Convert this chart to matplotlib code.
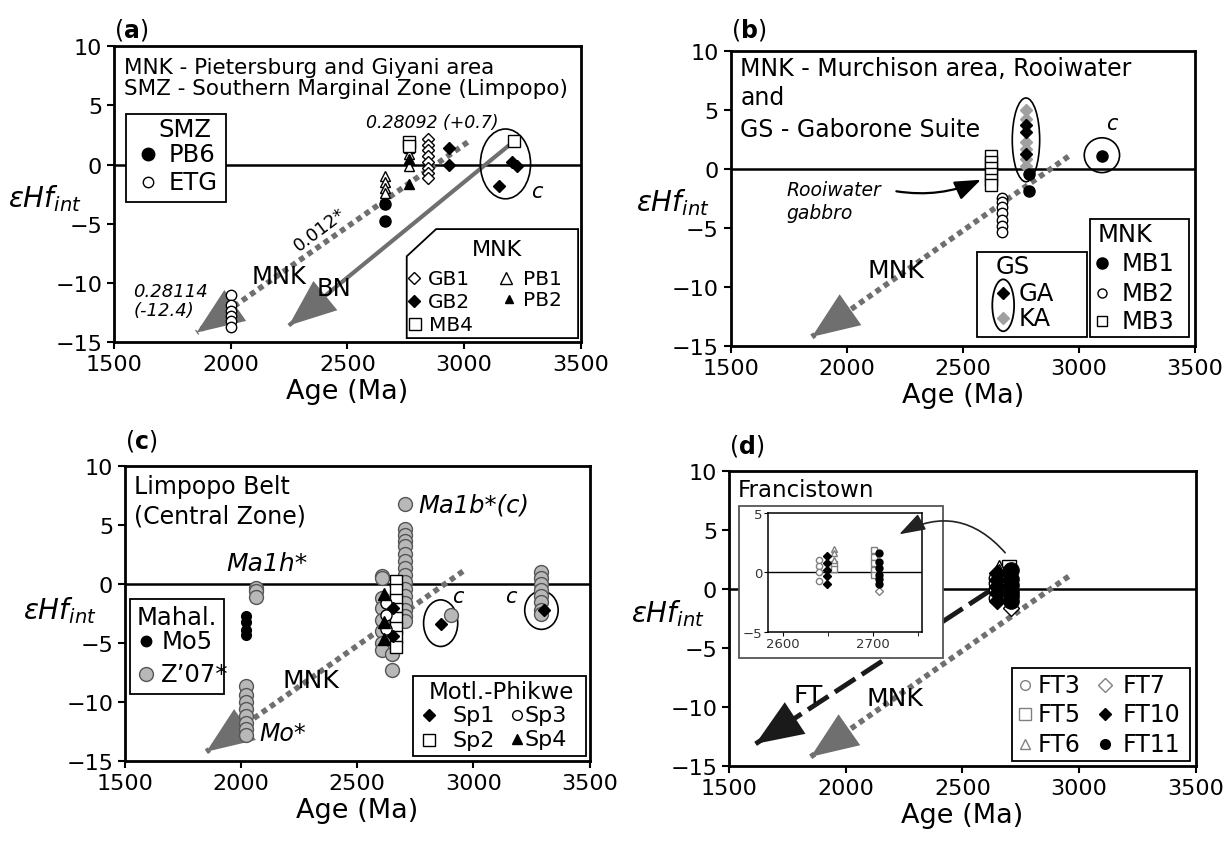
import numpy as np
import matplotlib.pyplot as plt
from matplotlib.patches import Ellipse, Rectangle, Polygon, ConnectionPatch

plt.rcParams['font.family'] = 'DejaVu Sans'
plt.rcParams['mathtext.fontset'] = 'dejavusans'

GREY = '#6f6f6f'
LGREY = '#b8b8b8'

# ---------------- data: age (Ma) and initial eHf ----------------
# MNK reference trend (start, arrow tip) - same in all panels
mnk_age = [2955, 1850]
mnk_ehf = [1.1, -14.2]

# (a) Pietersburg / Giyani + SMZ
a_etg_age = [2000, 2000, 2000, 2000, 2000, 2000]
a_etg_ehf = [-11.0, -11.9, -12.4, -12.8, -13.2, -13.7]
a_pb6_age = [2660, 2660]
a_pb6_ehf = [-3.3, -4.8]
a_pb1_age = [2660, 2660, 2660, 2660, 2765, 2765, 2765, 2765]
a_pb1_ehf = [-1.0, -1.5, -2.0, -2.4, 1.4, 0.9, 0.4, -0.1]
a_pb2_age = [2765, 2765]
a_pb2_ehf = [0.5, -1.6]
a_mb4_age = [2765, 2765, 3215]
a_mb4_ehf = [1.9, 1.6, 2.0]
a_gb1_age = [2845, 2845, 2845, 2845, 2845, 2845, 2845, 2845]
a_gb1_ehf = [2.2, 1.7, 1.2, 0.7, 0.2, -0.3, -0.7, -1.1]
a_gb2_age = [2935, 2935, 3150, 3205, 3225]
a_gb2_ehf = [1.4, 0.0, -1.8, 0.2, -0.1]
a_mnk_age = [3015, 1854]
a_mnk_ehf = [1.9, -14.2]
a_bn_age = [3215, 2249]
a_bn_ehf = [2.0, -13.6]

# (b) Murchison / Rooiwater + Gaborone Suite
b_mb3_age = [2620, 2620, 2620, 2620, 2620, 2620]
b_mb3_ehf = [1.1, 0.6, 0.1, -0.4, -0.9, -1.3]
b_mb2_age = [2670, 2670, 2670, 2670, 2670, 2670, 2670]
b_mb2_ehf = [-2.4, -2.8, -3.2, -3.7, -4.3, -4.8, -5.3]
b_ga_age = [2772, 2772, 2772]
b_ga_ehf = [3.8, 3.2, 1.3]
b_ka_age = [2772, 2772, 2772, 2772, 2772, 2772]
b_ka_ehf = [5.0, 4.3, 2.3, 1.7, 0.9, 0.3]
b_mb1_age = [2785, 2785, 3100]
b_mb1_ehf = [-0.4, -1.8, 1.1]

# (c) Limpopo Central Zone
c_mo5_age = [2020, 2020, 2020, 2020]
c_mo5_ehf = [-2.7, -3.2, -3.9, -4.3]
c_z07_age = ([2020] * 8 + [2062] * 3 + [2605] * 8 + [2650] * 2 + [2707] * 16
             + [2905] + [3290] * 8)
c_z07_ehf = [-8.6, -9.4, -10.0, -10.6, -11.2, -11.8, -12.3, -12.8,
             -0.3, -0.6, -1.1,
             0.7, 0.5, -1.2, -2.0, -3.0, -4.0, -5.0, -5.6,
             -5.9, -7.3,
             6.8, 4.7, 4.2, 3.7, 3.2, 2.6, 2.0, 1.4, 0.8, 0.2, -0.4, -1.0,
             -1.6, -2.2, -2.7, -3.1,
             -2.6,
             1.0, 0.5, 0.0, -0.5, -1.0, -1.5, -2.2, -2.5]
c_sp1_age = [2655, 2655, 2860, 3302]
c_sp1_ehf = [-2.0, -4.4, -3.4, -2.2]
c_sp2_age = [2665, 2665, 2665, 2665, 2665, 2665, 2665, 2665]
c_sp2_ehf = [0.3, -0.5, -1.3, -2.1, -2.9, -3.7, -4.5, -5.3]
c_sp3_age = [2625, 2625, 2625]
c_sp3_ehf = [-1.6, -2.6, -3.8]
c_sp4_age = [2615, 2615, 2615]
c_sp4_ehf = [-0.8, -3.2, -4.6]

# (d) Francistown
d_ft3_age = [2640, 2640, 2640, 2640]
d_ft3_ehf = [1.0, 0.5, 0.0, -0.7]
d_ft5_age = [2657, 2657, 2701, 2701, 2701, 2701, 2701]
d_ft5_ehf = [0.7, 0.3, 1.9, 1.3, 0.8, 0.2, -0.2]
d_ft6_age = [2657, 2657, 2657]
d_ft6_ehf = [2.0, 1.6, 1.0]
d_ft7_age = [2706]
d_ft7_ehf = [-1.6]
d_ft10_age = [2649, 2649, 2649, 2649, 2649]
d_ft10_ehf = [1.4, 0.8, 0.2, -0.3, -1.0]
d_ft11_age = [2706, 2706, 2706, 2706, 2706, 2706]
d_ft11_ehf = [1.6, 0.9, 0.4, -0.2, -0.6, -1.0]
d_ft_age = [2616, 1614]
d_ft_ehf = [-0.14, -13.1]

# ---------------- styles ----------------
FC = dict(marker='o', mfc='k', mec='k')
OC = dict(marker='o', mfc='w', mec='k')
FD = dict(marker='D', mfc='k', mec='k')
OD = dict(marker='D', mfc='w', mec='k')
FTR = dict(marker='^', mfc='k', mec='k')
OTR = dict(marker='^', mfc='w', mec='k')
OS = dict(marker='s', mfc='w', mec='k')
GC = dict(marker='o', mfc=LGREY, mec='#555555')
GD = dict(marker='D', mfc='#a0a0a0', mec='#a0a0a0')
GOC = dict(marker='o', mfc='w', mec='#808080')
GOS = dict(marker='s', mfc='w', mec='#808080')
GOT = dict(marker='^', mfc='w', mec='#808080')
GOD = dict(marker='D', mfc='w', mec='#808080')


def pts(ax, x, y, st, ms=7.5, z=4):
    ax.plot(x, y, ls='none', ms=ms, mew=1.0, zorder=z, **st)


def trend(ax, x, y, ls, color, lw=4.0):
    ax.plot(x, y, color=color, lw=lw, ls=ls, dash_capstyle='butt',
            solid_capstyle='butt', zorder=2)
    ax.annotate('', xy=(x[1], y[1]), xytext=(x[0], y[0]), zorder=2,
                arrowprops=dict(arrowstyle='-|>,head_length=1.0,head_width=0.4',
                                mutation_scale=34, fc=color, ec='none', lw=0,
                                shrinkA=0, shrinkB=0))


def setup(ax, label, ylab_xy, lab_y):
    ax.set_xlim(1500, 3500)
    ax.set_ylim(-15, 10)
    ax.set_xticks(range(1500, 3501, 500))
    ax.set_yticks(range(-15, 11, 5))
    ax.axhline(0, color='k', lw=1.8, zorder=1)
    for s in ax.spines.values():
        s.set_linewidth(2)
    ax.tick_params(labelsize=16, width=1.5, length=5)
    ax.set_xlabel('Age (Ma)', fontsize=19.5)
    ax.xaxis.set_label_coords(0.5, -0.165)
    ax.xaxis.label.set_va('center')
    ax.set_ylabel(r'$\varepsilon Hf_{int}$', fontsize=20, rotation=0,
                  ha='center', va='center')
    ax.yaxis.set_label_coords(*ylab_xy)
    ax.text(0.0, lab_y, r'($\mathbf{%s}$)' % label, transform=ax.transAxes,
            fontsize=17, va='center', ha='left')


def box(ax, x0, y0, x1, y1, poly=None, ec='k'):
    if poly is None:
        p = Rectangle((x0, y0), x1 - x0, y1 - y0, transform=ax.transAxes,
                      fc='w', ec=ec, lw=1.3, zorder=10)
    else:
        p = Polygon(poly, closed=True, transform=ax.transAxes,
                    fc='w', ec=ec, lw=1.3, zorder=10)
    ax.add_patch(p)


def key(ax, st, mx, y, lx, lab, ms=7.5, fs=17):
    ax.plot([mx], [y], ls='none', transform=ax.transAxes, ms=ms, mew=1.0,
            zorder=11, clip_on=False, **st)
    ax.text(lx, y, lab, transform=ax.transAxes, fontsize=fs, va='center',
            ha='left', zorder=11)


def tx(ax, x, y, s, fs=17, ha='left', **kw):
    ax.text(x, y, s, transform=ax.transAxes, fontsize=fs, ha=ha,
            va='center', zorder=11, **kw)


fig = plt.figure(figsize=(12.32, 8.45), dpi=100)
axa = fig.add_axes([0.0925, 0.594, 0.379, 0.350])
axb = fig.add_axes([0.593, 0.589, 0.377, 0.349])
axc = fig.add_axes([0.1015, 0.098, 0.377, 0.349])
axd = fig.add_axes([0.5917, 0.092, 0.379, 0.349])

# ---------------- (a) ----------------
ax = axa
setup(ax, 'a', (-0.148, 0.49), 1.057)
trend(ax, a_mnk_age, a_mnk_ehf, (0, (1, 0.8)), GREY)
trend(ax, a_bn_age, a_bn_ehf, '-', GREY, lw=3)
pts(ax, a_etg_age, a_etg_ehf, OC)
pts(ax, a_pb1_age, a_pb1_ehf, OTR)
pts(ax, a_pb6_age, a_pb6_ehf, FC, ms=8)
pts(ax, a_pb2_age, a_pb2_ehf, FTR, ms=6.5)
pts(ax, a_mb4_age, a_mb4_ehf, OS, ms=8)
pts(ax, a_gb1_age, a_gb1_ehf, OD, ms=6)
pts(ax, a_gb2_age, a_gb2_ehf, FD, ms=6)
ax.add_patch(Ellipse((3177, 0.06), 215, 5.9, fc='none', ec='k', lw=1.2, zorder=3))
ax.text(3310, -2.2, 'c', fontsize=15, style='italic', ha='center', va='center')
ax.text(2864, 3.6, '0.28092 (+0.7)', fontsize=12.5, style='italic', ha='center', va='center')
ax.text(2384, -5.4, '0.012*', fontsize=13, rotation=37, ha='center', va='center')
ax.text(2207, -9.4, 'MNK', fontsize=17.5, ha='center', va='center')
ax.text(2443, -10.4, 'BN', fontsize=17.5, ha='center', va='center')
ax.text(1584, -10.65, '0.28114', fontsize=13, style='italic', ha='left', va='center')
ax.text(1584, -12.3, '(-12.4)', fontsize=13, style='italic', ha='left', va='center')
tx(ax, 0.021, 0.929, 'MNK - Pietersburg and Giyani area', fs=15.5)
tx(ax, 0.021, 0.858, 'SMZ - Southern Marginal Zone (Limpopo)', fs=15.5)
box(ax, 0.026, 0.473, 0.240, 0.770)
tx(ax, 0.152, 0.72, 'SMZ', ha='center', fs=17.5)
key(ax, FC, 0.072, 0.635, 0.118, 'PB6', ms=9, fs=17.5)
key(ax, OC, 0.072, 0.540, 0.118, 'ETG', ms=7.5, fs=17.5)
box(ax, 0, 0, 0, 0, poly=[(0.627, 0.29), (0.69, 0.382), (0.994, 0.382),
                          (0.994, 0.0135), (0.627, 0.0135)])
tx(ax, 0.82, 0.315, 'MNK', ha='center', fs=16)
key(ax, OD, 0.642, 0.215, 0.672, 'GB1', ms=6, fs=14.5)
key(ax, FD, 0.642, 0.138, 0.672, 'GB2', ms=6, fs=14.5)
key(ax, OS, 0.645, 0.060, 0.675, 'MB4', ms=8, fs=14.5)
key(ax, OTR, 0.84, 0.215, 0.875, 'PB1', ms=8, fs=14.5)
key(ax, FTR, 0.845, 0.145, 0.875, 'PB2', ms=6, fs=14.5)

# ---------------- (b) ----------------
ax = axb
setup(ax, 'b', (-0.125, 0.49), 1.075)
trend(ax, mnk_age, mnk_ehf, (0, (1, 0.8)), GREY)
pts(ax, b_mb3_age, b_mb3_ehf, OS, ms=8)
pts(ax, b_mb2_age, b_mb2_ehf, OC)
pts(ax, b_ka_age, b_ka_ehf, GD, ms=6)
pts(ax, b_ga_age, b_ga_ehf, FD, ms=6)
pts(ax, b_mb1_age, b_mb1_ehf, FC, ms=8)
ax.add_patch(Ellipse((2772, 2.5), 118, 7.1, fc='none', ec='k', lw=1.2, zorder=3))
ax.add_patch(Ellipse((3099, 1.2), 152, 2.95, fc='none', ec='k', lw=1.2, zorder=3))
ax.text(3140, 3.9, 'c', fontsize=15, style='italic', ha='center', va='center')
ax.text(1740, -1.72, 'Rooiwater', fontsize=13.5, style='italic', ha='left', va='center')
ax.text(1740, -3.7, 'gabbro', fontsize=13.5, style='italic', ha='left', va='center')
ax.annotate('', xy=(2578, -0.88), xytext=(2214, -1.86),
            arrowprops=dict(arrowstyle='-|>,head_length=0.8,head_width=0.3',
                            connectionstyle='arc3,rad=0.15', color='k', lw=1.6,
                            mutation_scale=20, shrinkA=0, shrinkB=0))
ax.text(2214, -8.5, 'MNK', fontsize=18, ha='center', va='center')
tx(ax, 0.021, 0.942, 'MNK - Murchison area, Rooiwater', fs=17)
tx(ax, 0.021, 0.847, 'and', fs=17)
tx(ax, 0.021, 0.736, 'GS - Gaborone Suite', fs=17)
box(ax, 0.530, 0.03, 0.767, 0.319)
tx(ax, 0.608, 0.271, 'GS', ha='center', fs=17.5)
key(ax, FD, 0.587, 0.182, 0.62, 'GA', ms=6.5, fs=17.5)
key(ax, GD, 0.587, 0.097, 0.62, 'KA', ms=6.5, fs=17.5)
ax.add_patch(Ellipse((0.587, 0.139), 0.047, 0.176, transform=ax.transAxes,
                     fc='none', ec='k', lw=1.3, zorder=11))
box(ax, 0.774, 0.03, 0.987, 0.43)
tx(ax, 0.79, 0.38, 'MNK', fs=17.5)
key(ax, FC, 0.80, 0.284, 0.843, 'MB1', ms=8, fs=17.5)
key(ax, OC, 0.80, 0.182, 0.843, 'MB2', ms=6.5, fs=17.5)
key(ax, OS, 0.80, 0.085, 0.843, 'MB3', ms=7, fs=17.5)

# ---------------- (c) ----------------
ax = axc
setup(ax, 'c', (-0.14, 0.515), 1.09)
trend(ax, mnk_age, mnk_ehf, (0, (1, 0.8)), GREY)
pts(ax, c_z07_age, c_z07_ehf, GC, ms=10)
pts(ax, c_mo5_age, c_mo5_ehf, FC, ms=7)
pts(ax, c_sp2_age, c_sp2_ehf, OS, ms=9)
pts(ax, c_sp3_age, c_sp3_ehf, OC, ms=8)
pts(ax, c_sp4_age, c_sp4_ehf, FTR, ms=8)
pts(ax, c_sp1_age, c_sp1_ehf, FD, ms=6.5, z=5)
ax.add_patch(Ellipse((2859, -3.3), 147, 3.95, fc='none', ec='k', lw=1.2, zorder=3))
ax.add_patch(Ellipse((3293, -2.2), 144, 3.25, fc='none', ec='k', lw=1.2, zorder=3))
ax.text(2933, -1.0, 'c', fontsize=15, style='italic', ha='center', va='center')
ax.text(3162, -1.0, 'c', fontsize=15, style='italic', ha='center', va='center')
ax.text(2112, 1.8, 'Ma1h*', fontsize=18, style='italic', ha='center', va='center')
ax.text(2764, 6.75, 'Ma1b*(c)', fontsize=17.5, style='italic', ha='left', va='center')
ax.text(2079, -12.6, 'Mo*', fontsize=17, style='italic', ha='left', va='center')
ax.text(2302, -8.1, 'MNK', fontsize=18, ha='center', va='center')
tx(ax, 0.0185, 0.933, 'Limpopo Belt')
tx(ax, 0.0185, 0.832, '(Central Zone)')
box(ax, 0.01, 0.227, 0.213, 0.549)
tx(ax, 0.025, 0.488, 'Mahal.', fs=17.5)
key(ax, FC, 0.045, 0.407, 0.078, 'Mo5', ms=7.5, fs=17.5)
key(ax, GC, 0.045, 0.295, 0.078, 'Z\u201907*', ms=10, fs=17.5)
box(ax, 0.62, 0.018, 0.992, 0.289)
tx(ax, 0.81, 0.238, 'Motl.-Phikwe', ha='center', fs=16.5)
key(ax, FD, 0.655, 0.158, 0.705, 'Sp1', ms=6.5, fs=16)
key(ax, OS, 0.655, 0.072, 0.705, 'Sp2', ms=8, fs=16)
key(ax, OC, 0.844, 0.158, 0.861, 'Sp3', ms=7, fs=16)
key(ax, FTR, 0.844, 0.076, 0.861, 'Sp4', ms=6.5, fs=16)

# ---------------- (d) ----------------
ax = axd
setup(ax, 'd', (-0.13, 0.52), 1.09)
trend(ax, mnk_age, mnk_ehf, (0, (1, 0.8)), GREY)
trend(ax, d_ft_age, d_ft_ehf, (0, (5, 1.6)), '#1a1a1a', lw=3.5)
pts(ax, d_ft3_age, d_ft3_ehf, OC, ms=9)
pts(ax, d_ft5_age, d_ft5_ehf, OS, ms=10)
pts(ax, d_ft6_age, d_ft6_ehf, OTR, ms=9)
pts(ax, d_ft7_age, d_ft7_ehf, OD, ms=8)
pts(ax, d_ft10_age, d_ft10_ehf, FD, ms=8)
pts(ax, d_ft11_age, d_ft11_ehf, FC, ms=11)
ax.text(1840, -9.0, 'FT', fontsize=18, ha='center', va='center')
ax.text(2212, -9.2, 'MNK', fontsize=18, ha='center', va='center')
tx(ax, 0.019, 0.939, 'Francistown', fs=16.5)
box(ax, 0.021, 0.366, 0.458, 0.881, ec='#555555')
box(ax, 0.606, 0.018, 0.988, 0.332)
key(ax, GOC, 0.633, 0.275, 0.662, 'FT3', ms=7)
key(ax, GOS, 0.633, 0.178, 0.662, 'FT5', ms=8)
key(ax, GOT, 0.633, 0.076, 0.662, 'FT6', ms=7.5)
key(ax, GOD, 0.805, 0.275, 0.843, 'FT7', ms=7)
key(ax, FD, 0.805, 0.178, 0.843, 'FT10', ms=6)
key(ax, FC, 0.805, 0.076, 0.843, 'FT11', ms=7)

ins = fig.add_axes([0.6234, 0.251, 0.125, 0.141])
ins.set_xlim(2584, 2754)
ins.set_ylim(-5, 5)
ins.set_xticks([2600, 2700])
ins.set_xticks([2650, 2750], minor=True)
ins.set_yticks([-5, 0, 5])
ins.axhline(0, color='k', lw=1.0, zorder=1)
ins.tick_params(labelsize=9.5, labelcolor='#333333', length=3, pad=1)
ins.tick_params(which='minor', length=3)
for s in ins.spines.values():
    s.set_linewidth(1.1)
pts(ins, d_ft3_age, d_ft3_ehf, GOC, ms=4.5)
pts(ins, d_ft5_age, d_ft5_ehf, GOS, ms=5)
pts(ins, d_ft6_age, d_ft6_ehf, GOT, ms=5)
pts(ins, d_ft7_age, d_ft7_ehf, GOD, ms=4.5)
pts(ins, d_ft10_age, d_ft10_ehf, FD, ms=4)
pts(ins, d_ft11_age, d_ft11_ehf, FC, ms=5)

con = ConnectionPatch(xyA=(2683, 3.1), coordsA='data', axesA=axd,
                      xyB=(2229, 4.66), coordsB='data', axesB=axd,
                      arrowstyle='-|>,head_length=0.9,head_width=0.3',
                      connectionstyle='arc3,rad=0.4', color='#222222',
                      lw=1.2, mutation_scale=18)
fig.add_artist(con)

fig.savefig('out.png', dpi=100, facecolor='white')
